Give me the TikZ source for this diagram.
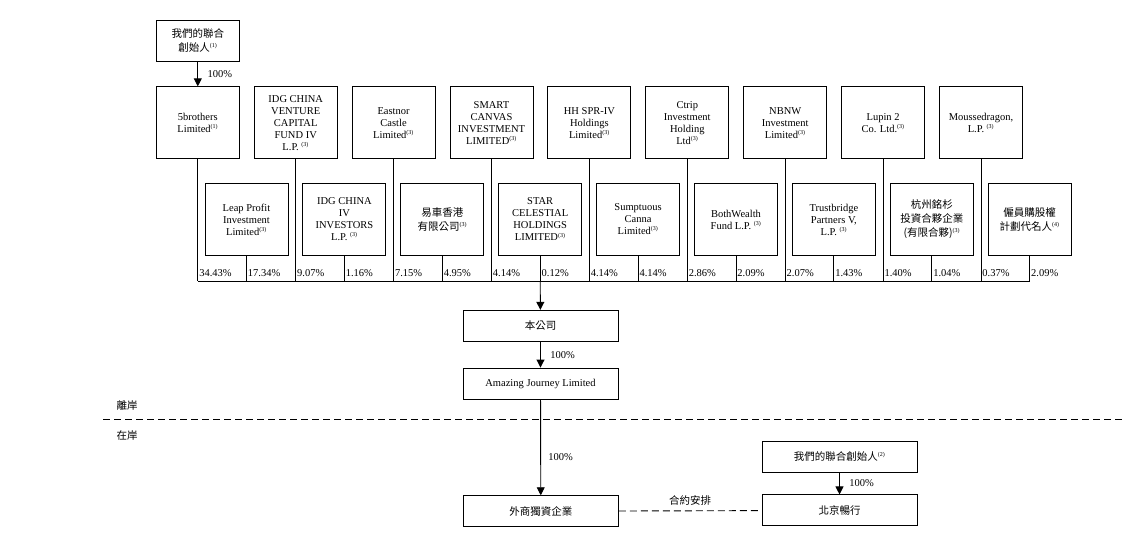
\documentclass[tikz,border=0pt]{standalone}
\usepackage{fontspec}
\setmainfont{Liberation Serif}
\newfontfamily\cjk{Noto Sans CJK TC}
\usetikzlibrary{arrows.meta}
\def\boxwidth{83pt}
\def\boxheight{72pt}
\def\pctrow{281}
\def\pcttext{273}
\newcommand\fnmark[1]{\textsuperscript{\fontsize{6}{6}\selectfont\rmfamily(#1)}}

\begin{document}
\begin{tikzpicture}[x=1pt, y=-1pt, line width=0.9pt,
                    every node/.style={font=\fontsize{10.5}{12}\selectfont, align=center},
                    cjktext/.style={font=\fontsize{10.5}{14}\selectfont\cjk},
                    holder/.style={draw, minimum width=\boxwidth, minimum height=\boxheight, inner sep=1pt},
                    entity/.style={draw, minimum width=155pt, minimum height=31pt},
                    pct/.style={anchor=west, inner sep=1pt},
                    owns/.style={-{Triangle[length=8pt,width=8pt]}},
                    contract/.style={dash pattern=on 7pt off 4pt}]
    \useasboundingbox (0,0) rectangle (1126,542);
    \node[holder, cjktext, minimum height=41pt] (F1) at (197.8,40.5) {我們的聯合\\創始人\fnmark{1}};
    % first row of holders
    \node[holder] (T1) at (197.8,122.8) {5brothers\\Limited\fnmark{1}};
    \node[holder] (T2) at (295.7,122.8) {IDG CHINA\\VENTURE\\CAPITAL\\FUND IV\\L.P. \fnmark{3}};
    \node[holder] (T3) at (393.6,122.8) {Eastnor\\Castle\\Limited\fnmark{3}};
    \node[holder] (T4) at (491.5,122.8) {SMART\\CANVAS\\INVESTMENT\\LIMITED\fnmark{3}};
    \node[holder] (T5) at (589.4,122.8) {HH SPR-IV\\Holdings\\Limited\fnmark{3}};
    \node[holder] (T6) at (687.3,122.8) {Ctrip\\Investment\\Holding\\Ltd\fnmark{3}};
    \node[holder] (T7) at (785.2,122.8) {NBNW\\Investment\\Limited\fnmark{3}};
    \node[holder] (T8) at (883.1,122.8) {Lupin 2\\Co. Ltd.\fnmark{3}};
    \node[holder] (T9) at (981.0,122.8) {Moussedragon,\\L.P. \fnmark{3}};
    % second row of holders
    \node[holder] (S1) at (246.5,219.5) {Leap Profit\\Investment\\Limited\fnmark{3}};
    \node[holder] (S2) at (344.4,219.5) {IDG CHINA\\IV\\INVESTORS\\L.P. \fnmark{3}};
    \node[holder, cjktext] (S3) at (442.3,219.5) {易車香港\\有限公司\fnmark{3}};
    \node[holder] (S4) at (540.2,219.5) {STAR\\CELESTIAL\\HOLDINGS\\LIMITED\fnmark{3}};
    \node[holder] (S5) at (638.1,219.5) {Sumptuous\\Canna\\Limited\fnmark{3}};
    \node[holder] (S6) at (736.0,219.5) {BothWealth\\Fund L.P. \fnmark{3}};
    \node[holder] (S7) at (833.9,219.5) {Trustbridge\\Partners V,\\L.P. \fnmark{3}};
    \node[holder, cjktext] (S8) at (931.8,219.5) {杭州銘杉\\投資合夥企業\\(有限合夥)\fnmark{3}};
    \node[holder, cjktext] (S9) at (1029.7,219.5) {僱員購股權\\計劃代名人\fnmark{4}};

    \coordinate (P) at (0,\pctrow);
    \coordinate (Q) at (0,\pcttext);
    \foreach \i/\a/\b in {1/34.43/17.34, 2/9.07/1.16, 3/7.15/4.95, 4/4.14/0.12, 5/4.14/4.14,
                          6/2.86/2.09, 7/2.07/1.43, 8/1.40/1.04, 9/0.37/2.09}{%
        \draw (T\i.south) -- (T\i.south |- P);
        \draw (S\i.south) -- (S\i.south |- P);
        \node[pct] (pa\i) at (T\i.south |- Q) {\a\%};
        \node[pct] (pb\i) at (S\i.south |- Q) {\b\%};}
    \draw (T1.south |- P) -- (S9.south |- P);

    % group companies
    \node[entity, cjktext] (Co) at (540.5,325.8) {本公司};
    \node[entity] (AJ) at (540.5,383.5) {Amazing Journey Limited};
    \node[entity, cjktext] (WF) at (540.8,511.2) {外商獨資企業};
    \node[entity, cjktext] (F2) at (839.5,456.7) {我們的聯合創始人\fnmark{2}};
    \node[entity, cjktext] (BJ) at (839.5,510.4) {北京暢行};

    \draw[owns] (F1) -- (T1) node[midway, right=6pt] {100\%};
    \draw[owns] (S4.south |- P) -- (Co);
    \draw[owns] (Co) -- (AJ) node[midway, right=6pt] {100\%};
    \draw[owns] (AJ) -- (WF) node[pos=0.6, right=4pt] {100\%};
    \draw[owns] (F2) -- (BJ) node[midway, right=6pt] {100\%};
    \draw[contract] (WF) -- (BJ) node[midway, above=2pt, cjktext] {合約安排};

    % offshore / onshore
    \coordinate (L) at (103,419);
    \coordinate (R) at (1126,419);
    \draw[contract] (L) -- (R);
    \node[cjktext] (off) at (127,405) {離岸};
    \node[cjktext] (on) at (127,435) {在岸};
  \end{tikzpicture}
\end{document}
